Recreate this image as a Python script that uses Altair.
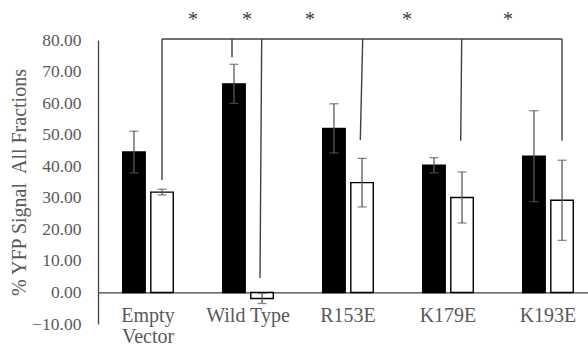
import altair as alt
import pandas as pd

# ---- data ----
categories = ["Empty Vector", "Wild Type", "R153E", "K179E", "K193E"]
series = ["Black", "White"]
black_values = [44.5, 66.1, 52.0, 40.3, 43.2]
black_errors = [6.6, 6.2, 7.8, 2.4, 14.4]
white_values = [31.8, -1.9, 34.8, 30.1, 29.2]
white_errors = [0.9, 1.6, 7.7, 8.1, 12.7]
y_ticks = [-10, 0, 10, 20, 30, 40, 50, 60, 70, 80]

# significance bracket, x in category units (category i spans [i, i+1])
bracket_y = 80.3
bracket_left = 0.64
bracket_right = 4.64
drop_x_top = [0.64, 1.34, 1.637, 2.647, 3.637, 4.64]
drop_x_bottom = [0.64, 1.34, 1.62, 2.623, 3.627, 4.64]
drop_y_bottom = [35.6, 74.5, 4.6, 48.3, 48.1, 48.1]
star_x = [0.95, 1.49, 2.12, 3.09, 4.10]
star_y = [87.3, 87.3, 87.3, 87.3, 87.3]

# ---- tables ----
rows = []
for c, v, e in zip(categories, black_values, black_errors):
    rows.append({"category": c, "series": "Black", "value": v, "lo": v - e, "hi": v + e})
for c, v, e in zip(categories, white_values, white_errors):
    rows.append({"category": c, "series": "White", "value": v, "lo": v - e, "hi": v + e})
bars_df = pd.DataFrame(rows)
caps_df = bars_df.melt(id_vars=["category", "series"], value_vars=["lo", "hi"], value_name="cap")

drops_df = pd.DataFrame({"xt": drop_x_top, "xb": drop_x_bottom, "yb": drop_y_bottom,
                         "yt": [bracket_y] * len(drop_x_top)})
hbar_df = pd.DataFrame({"x1": [bracket_left], "x2": [bracket_right], "y": [bracket_y]})
stars_df = pd.DataFrame({"x": star_x, "y": star_y, "t": ["*"] * len(star_x)})

FONT = "Liberation Serif"
GREY = "#595959"
yscale = alt.Scale(domain=[-10, 80], nice=False, zero=False)
xband = alt.Scale(domain=categories, range=[0, 500], paddingInner=0, paddingOuter=0)
xq = alt.Scale(domain=[0, 5], range=[0, 500], nice=False, zero=False)
xoff = alt.XOffset("series:N", scale=alt.Scale(domain=series, paddingInner=0.2, paddingOuter=0.88))

x_enc = alt.X(
    "category:N", sort=categories, scale=xband, title=None,
    axis=alt.Axis(
        offset=-31.6, labelAngle=0, ticks=False, domainColor="#404040", domainWidth=1.3,
        labelFont=FONT, labelFontSize=20, labelColor=GREY, labelPadding=13,
        labelLineHeight=21,
        labelExpr="datum.label == 'Empty Vector' ? ['Empty', 'Vector'] : datum.label",
    ),
)
y_axis = alt.Axis(
    values=y_ticks, format=".2f", grid=False, ticks=False, domainColor="#404040", domainWidth=1.3,
    labelFont=FONT, labelFontSize=17.5, labelColor=GREY, labelPadding=17,
    title="% YFP Signal\u00a0 All Fractions", titleFont=FONT, titleFontSize=20,
    titleColor=GREY, titleFontWeight="normal", titlePadding=2,
)

bars = alt.Chart(bars_df).mark_bar(stroke="black", strokeWidth=1.4).encode(
    x=x_enc,
    xOffset=xoff,
    y=alt.Y("value:Q", scale=yscale, axis=y_axis),
    fill=alt.Fill("series:N", scale=alt.Scale(domain=series, range=["black", "white"]), legend=None),
)
errs = alt.Chart(bars_df).mark_rule(color=GREY, strokeWidth=1.3).encode(
    x=alt.X("category:N", sort=categories, scale=xband),
    xOffset=xoff,
    y=alt.Y("lo:Q", scale=yscale, axis=y_axis),
    y2="hi:Q",
)
caps = alt.Chart(caps_df).mark_tick(orient="horizontal", size=9, thickness=1.3, color=GREY).encode(
    x=alt.X("category:N", sort=categories, scale=xband),
    xOffset=xoff,
    y=alt.Y("cap:Q", scale=yscale, axis=y_axis),
)
main = alt.layer(bars, errs, caps)

drops = alt.Chart(drops_df).mark_rule(color="#404040", strokeWidth=1.4).encode(
    x=alt.X("xt:Q", scale=xq, axis=None),
    x2="xb:Q",
    y=alt.Y("yt:Q", scale=yscale, axis=y_axis),
    y2="yb:Q",
)
hbar = alt.Chart(hbar_df).mark_rule(color="#404040", strokeWidth=1.4).encode(
    x=alt.X("x1:Q", scale=xq, axis=None),
    x2="x2:Q",
    y=alt.Y("y:Q", scale=yscale, axis=y_axis),
)
stars = alt.Chart(stars_df).mark_text(font=FONT, fontSize=20, color="#404040", baseline="middle", dy=3).encode(
    x=alt.X("x:Q", scale=xq, axis=None),
    y=alt.Y("y:Q", scale=yscale, axis=y_axis),
    text="t:N",
)
annot = alt.layer(drops, hbar, stars)

chart = alt.layer(main, annot).resolve_scale(x="independent").properties(
    width=490, height=284,
    autosize=alt.AutoSizeParams(type="none"),
    padding={"left": 98, "top": 40, "right": 0, "bottom": 24},
    background="white",
).configure_view(stroke=None)

chart.save("out.html", embed_options={"renderer": "svg", "actions": False})
